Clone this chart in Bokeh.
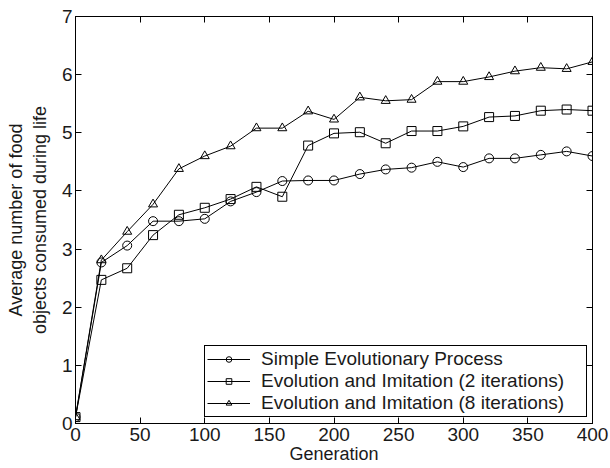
from bokeh.plotting import figure
from bokeh.models import (Range1d, LinearAxis, FixedTicker, Legend, LegendItem,
                          ColumnDataSource, CustomLabelingPolicy)
from bokeh.embed import file_html
from bokeh.resources import INLINE

generation = [0, 20, 40, 60, 80, 100, 120, 140, 160, 180, 200,
              220, 240, 260, 280, 300, 320, 340, 360, 380, 400]
simple_evo = [0.11, 2.77, 3.06, 3.48, 3.48, 3.52, 3.82, 3.98, 4.17, 4.18, 4.18,
              4.29, 4.37, 4.40, 4.50, 4.41, 4.56, 4.56, 4.62, 4.68, 4.60]
imit_2 = [0.11, 2.47, 2.67, 3.24, 3.59, 3.71, 3.86, 4.07, 3.90, 4.78, 4.99,
          5.01, 4.82, 5.03, 5.03, 5.11, 5.27, 5.29, 5.38, 5.40, 5.38]
imit_8 = [0.11, 2.81, 3.30, 3.77, 4.38, 4.60, 4.77, 5.08, 5.08, 5.37, 5.23,
          5.61, 5.55, 5.57, 5.88, 5.88, 5.96, 6.06, 6.12, 6.10, 6.22]

series_names = ["Simple Evolutionary Process",
                "Evolution and Imitation (2 iterations)",
                "Evolution and Imitation (8 iterations)"]
markers = ["circle", "square", "triangle"]
x_ticks = [0, 50, 100, 150, 200, 250, 300, 350, 400]
y_ticks = [0, 1, 2, 3, 4, 5, 6, 7]
x_title = "Generation"
y_title = "Average number of food\nobjects consumed during life"

FONT = "Liberation Sans"
TXT = "#1a1a1a"

p = figure(width=610, height=468, output_backend="svg", toolbar_location=None,
           x_range=Range1d(0, 400), y_range=Range1d(0, 7),
           x_axis_label=x_title, y_axis_label=y_title,
           min_border_left=75, min_border_right=18, min_border_top=16,
           min_border_bottom=45)
p.background_fill_color = "white"
p.border_fill_color = "white"
p.outline_line_color = "black"
p.xgrid.visible = False
p.ygrid.visible = False

hide_labels = CustomLabelingPolicy(
    code="for (let i = 0; i < indices.size; i++) { indices.unset(i) } return indices")

def style_axis(ax, ticks, show_labels):
    ax.ticker = FixedTicker(ticks=ticks)
    ax.major_tick_in = 6
    ax.major_tick_out = 0
    ax.minor_tick_line_color = None
    ax.axis_line_color = "black"
    ax.major_tick_line_color = "black"
    ax.major_label_text_font = FONT
    ax.major_label_text_color = TXT
    ax.major_label_text_font_size = "19px"
    ax.axis_label_text_font = FONT
    ax.axis_label_text_color = TXT
    ax.axis_label_text_font_style = "normal"
    ax.axis_label_text_font_size = "18px"
    if not show_labels:
        ax.major_label_policy = hide_labels
        ax.major_label_standoff = 0

style_axis(p.xaxis[0], x_ticks, True)
style_axis(p.yaxis[0], y_ticks, True)
p.xaxis[0].major_label_standoff = 4
p.xaxis[0].axis_label_standoff = 0
p.yaxis[0].major_label_standoff = 3
p.yaxis[0].axis_label_standoff = 9
p.yaxis[0].axis_label_text_line_height = 1.2

top_ax = LinearAxis()
right_ax = LinearAxis()
style_axis(top_ax, x_ticks, False)
style_axis(right_ax, y_ticks, False)
p.add_layout(top_ax, "above")
p.add_layout(right_ax, "right")

nan = float("nan")
items = []
for ys, name, mk in zip([simple_evo, imit_2, imit_8], series_names, markers):
    src = ColumnDataSource(dict(x=generation, y=ys))
    ln = p.line("x", "y", source=src, line_color="black", line_width=1)
    p.scatter("x", "y", source=src, marker=mk, size=9, fill_color=None,
              line_color="black", line_width=1)
    key = p.scatter(x=[nan], y=[nan], marker=mk, size=6, fill_color=None,
                    line_color="black", line_width=1)
    items.append(LegendItem(label=name, renderers=[ln, key]))

legend = Legend(items=items, location=(129, 6))
legend.label_text_font = FONT
legend.label_text_font_size = "19px"
legend.label_text_color = TXT
legend.border_line_color = "black"
legend.border_line_width = 1
legend.border_line_alpha = 1
legend.background_fill_alpha = 1
legend.padding = 2
legend.spacing = 0
legend.margin = 0
legend.glyph_width = 43
legend.glyph_height = 14
legend.label_height = 20
legend.label_width = 323
legend.label_standoff = 11
p.add_layout(legend)

open("out.html", "w").write(file_html(p, INLINE))
